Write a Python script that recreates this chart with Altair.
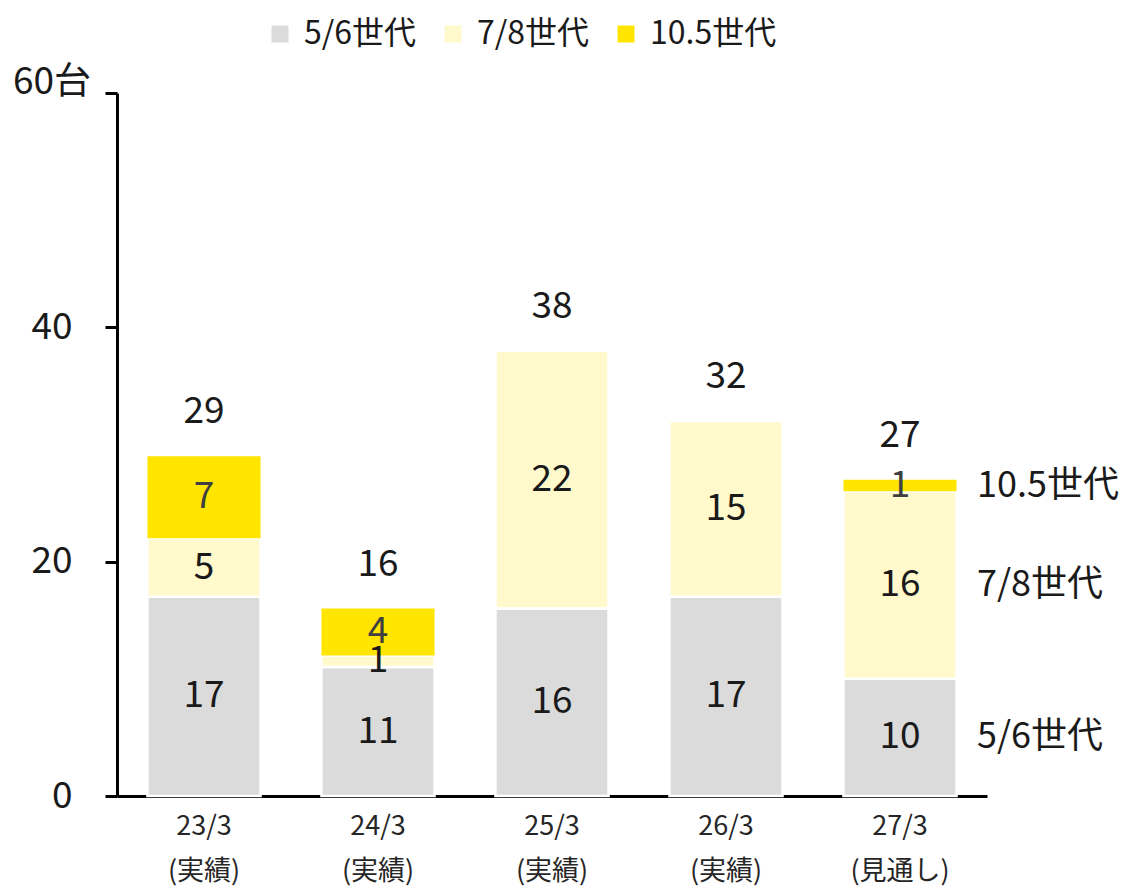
import altair as alt
import pandas as pd

categories = ["23/3", "24/3", "25/3", "26/3", "27/3"]
sublabels = ["(実績)", "(実績)", "(実績)", "(実績)", "(見通し)"]
series = ["5/6世代", "7/8世代", "10.5世代"]
gen56 = [17, 11, 16, 17, 10]
gen78 = [5, 1, 22, 15, 16]
gen105 = [7, 4, 0, 0, 1]
colors = ["#DBDBDB", "#FFF9CC", "#FFE500"]
y_ticks = [0, 20, 40, 60]
unit_label = "60台"

FONT = "Noto Sans CJK JP"
TXT = "#1a1a1a"

rows = []
for i, cat in enumerate(categories):
    base = 0
    for s, vals in zip(series, [gen56, gen78, gen105]):
        v = vals[i]
        rows.append({"cat": cat + "\n" + sublabels[i], "series": s, "value": v,
                     "y0": base, "y1": base + v, "mid": base + v / 2})
        base += v
df = pd.DataFrame(rows)
df = df[df["value"] > 0]
xcats = [c + "\n" + s for c, s in zip(categories, sublabels)]
tot = pd.DataFrame({"cat": xcats,
                    "total": [a + b + c for a, b, c in zip(gen56, gen78, gen105)]})
last = df[df["cat"] == xcats[-1]]
unit = pd.DataFrame({"v": [60], "t": [unit_label]})

xs = alt.X("cat:N", sort=xcats,
           scale=alt.Scale(domain=xcats, paddingInner=0.35, paddingOuter=0.175),
           axis=alt.Axis(title=None, ticks=False, domainWidth=3, domainColor="black",
                         labelAngle=0, labelFontSize=27, labelLineHeight=45,
                         labelPadding=17, labelColor="#262626", labelFont=FONT,
                         labelExpr="split(datum.label, '\\n')"))
yscale = alt.Scale(domain=[0, 60], nice=False, zero=True)

bars = alt.Chart(df).mark_bar(stroke="white").encode(
    x=xs,
    y=alt.Y("y0:Q", scale=yscale,
            axis=alt.Axis(title=None, values=y_ticks, grid=False, domainWidth=3,
                          domainColor="black", tickColor="black", tickWidth=3,
                          tickSize=12, labelFontSize=37, labelPadding=33,
                          labelColor=TXT, labelFont=FONT,
                          labelExpr="datum.value == 60 ? '' : datum.label")),
    y2="y1:Q",
    color=alt.Color("series:N", sort=series,
                    scale=alt.Scale(domain=series, range=colors),
                    legend=alt.Legend(title=None, orient="none", direction="horizontal",
                                      legendX=147, legendY=-75, symbolType="square",
                                      symbolSize=289, symbolStrokeWidth=0,
                                      labelFontSize=32, labelFont=FONT, labelColor=TXT,
                                      labelOffset=8, columnPadding=20)),
    strokeWidth=alt.condition(alt.datum.series == "10.5世代", alt.value(0), alt.value(2.5)),
)

seg_text = alt.Chart(df).mark_text(fontSize=37, font=FONT, baseline="middle").encode(
    x=alt.X("cat:N", sort=xcats, scale=alt.Scale(domain=xcats)),
    y=alt.Y("mid:Q", scale=yscale),
    text="value:Q",
    color=alt.condition(alt.datum.series == "10.5世代", alt.value("#404040"), alt.value(TXT)),
)

tot_text = alt.Chart(tot).mark_text(fontSize=37, font=FONT, baseline="middle", dy=-44,
                                    color=TXT).encode(
    x=alt.X("cat:N", sort=xcats, scale=alt.Scale(domain=xcats)),
    y=alt.Y("total:Q", scale=yscale),
    text="total:Q",
)

side_text = alt.Chart(last).mark_text(fontSize=36, font=FONT, baseline="middle",
                                      align="left", dx=77, color=TXT).encode(
    x=alt.X("cat:N", sort=xcats, scale=alt.Scale(domain=xcats)),
    y=alt.Y("mid:Q", scale=yscale),
    text="series:N",
)

unit_text = alt.Chart(unit).mark_text(fontSize=37, font=FONT, baseline="middle",
                                      align="right", dy=-10, color=TXT).encode(
    x=alt.value(-26),
    y=alt.Y("v:Q", scale=yscale),
    text="t:N",
)

chart = alt.layer(bars, seg_text, tot_text, side_text, unit_text).properties(
    width=870, height=703,
    autosize=alt.AutoSizeParams(type="none"),
    padding={"left": 109, "top": 85, "right": 136, "bottom": 92},
).configure(font=FONT).configure_view(strokeWidth=0, stroke=None)

chart.save("out.html", embed_options={"renderer": "svg", "actions": False})
